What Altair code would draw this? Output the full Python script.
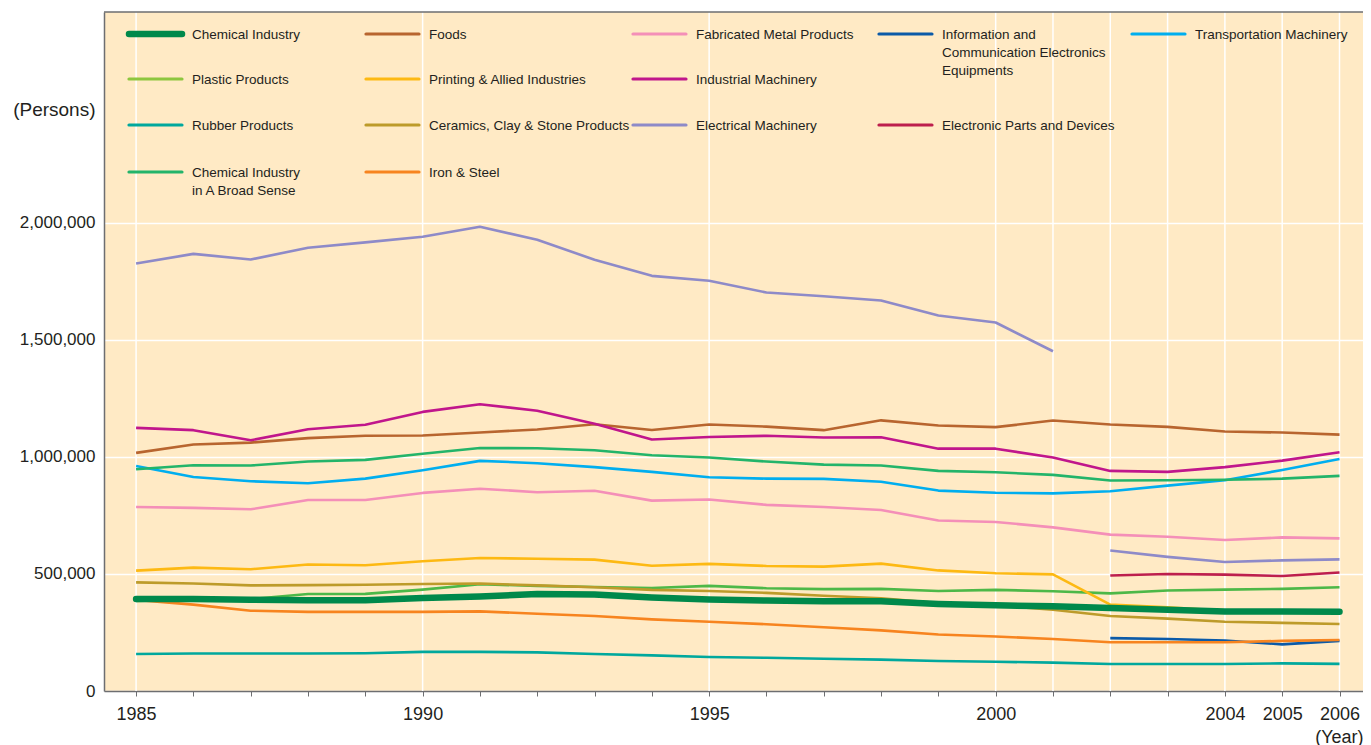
import altair as alt
import pandas as pd

# ---------------- data ----------------
YEARS = list(range(1985, 2007))

INDUSTRIES = [
    "Chemical Industry", "Foods", "Fabricated Metal Products",
    "Information and Communication Electronics Equipments", "Transportation Machinery",
    "Plastic Products", "Printing & Allied Industries", "Industrial Machinery",
    "Rubber Products", "Ceramics, Clay & Stone Products", "Electrical Machinery",
    "Electronic Parts and Devices", "Chemical Industry in A Broad Sense", "Iron & Steel",
]

LINE_COLORS = [
    "#00894b", "#b8652f", "#f48fb8", "#0b5aa8", "#00aeef",
    "#4db848", "#fdb913", "#c0168c", "#00a89d", "#bd9b2a",
    "#8e8ac8", "#bd1f4d", "#23b46a", "#f7841f",
]
LEGEND_COLORS = [
    "#00894b", "#b8652f", "#f48fb8", "#0b5aa8", "#00aeef",
    "#8dc63f", "#fdb913", "#c0168c", "#00a89d", "#bd9b2a",
    "#8e8ac8", "#bd1f4d", "#23b46a", "#f7841f",
]

NA17 = [None] * 17
chemical = [393, 393, 390, 388, 388, 397, 404, 414, 412, 399, 391, 386, 383, 383, 372, 366, 362, 355, 347, 340, 340, 339]
foods = [1017, 1053, 1061, 1080, 1090, 1091, 1104, 1117, 1139, 1115, 1138, 1129, 1114, 1156, 1134, 1127, 1155, 1138, 1128, 1108, 1104, 1095]
fabricated = [786, 782, 776, 816, 816, 846, 864, 849, 855, 813, 818, 795, 786, 773, 728, 722, 699, 668, 659, 645, 656, 652]
info_comm = NA17 + [226, 222, 216, 199, 214]
transport = [961, 914, 896, 887, 907, 943, 983, 973, 956, 936, 913, 907, 906, 894, 856, 847, 844, 853, 877, 900, 944, 991]
plastic = [385, 390, 393, 414, 415, 433, 456, 449, 444, 440, 449, 439, 435, 436, 427, 432, 426, 417, 429, 433, 436, 443]
printing = [514, 527, 520, 540, 537, 554, 568, 565, 561, 535, 543, 534, 531, 544, 515, 503, 498, 369, 357, 343, 340, 333]
industrial = [1124, 1114, 1071, 1118, 1137, 1192, 1225, 1197, 1141, 1074, 1085, 1090, 1083, 1084, 1035, 1035, 997, 940, 936, 956, 984, 1020]
rubber = [158, 160, 160, 160, 161, 167, 167, 165, 158, 152, 145, 142, 138, 134, 128, 125, 121, 115, 115, 115, 118, 116]
ceramics = [464, 459, 451, 452, 454, 457, 459, 451, 443, 432, 427, 419, 407, 396, 376, 365, 347, 320, 309, 296, 291, 286]
electrical = [1826, 1867, 1843, 1893, 1916, 1940, 1983, 1927, 1842, 1773, 1752, 1702, 1686, 1668, 1604, 1574, 1451, 600, 573, 551, 558, 562]
electronic_parts = NA17 + [493, 500, 497, 491, 506]
broad_sense = [947, 964, 963, 980, 987, 1013, 1038, 1037, 1028, 1007, 997, 980, 967, 963, 940, 934, 923, 899, 900, 902, 907, 919]
iron_steel = [389, 369, 343, 338, 338, 338, 340, 330, 320, 306, 296, 285, 272, 259, 241, 233, 222, 208, 208, 208, 214, 218]

SERIES = [chemical, foods, fabricated, info_comm, transport, plastic, printing,
          industrial, rubber, ceramics, electrical, electronic_parts, broad_sense, iron_steel]

# classification change: the series is split here
BREAK_YEAR = {"Electrical Machinery": 2002}

LABEL_YEARS = [1985, 1990, 1995, 2000, 2004, 2005, 2006]
GRID_YEARS = [1985, 1990, 1995, 2000, 2001, 2002, 2003, 2004, 2005, 2006]
Y_TICKS = [0, 500000, 1000000, 1500000, 2000000]

LEGEND_LABELS = {
    "Information and Communication Electronics Equipments":
        "Information and\nCommunication Electronics\nEquipments",
    "Chemical Industry in A Broad Sense": "Chemical Industry\nin A Broad Sense",
}
# (column, row) of each legend entry
LEGEND_CELLS = [(0, 0), (1, 0), (2, 0), (3, 0), (4, 0),
                (0, 1), (1, 1), (2, 1),
                (0, 2), (1, 2), (2, 2), (3, 2),
                (0, 3), (1, 3)]

# ---------------- layout ----------------
W, H = 1259, 679
BG = "#ffeac5"
AXIS_GRAY = "#6d6e71"
TEXT = "#231f20"
AXIS_FONT = "Liberation Sans, Arial, Helvetica, sans-serif"
LEG_FONT = "Liberation Sans, Arial, Helvetica, sans-serif"
LEG_FONT_SIZE = 13.5
LEG_COL_X = [25, 262, 529, 775, 1028]
LEG_ROW_Y = [22, 67, 113, 160]
LEG_LINE_LEN = 53
LEG_TEXT_DX = 63

rows = []
for name, vals in zip(INDUSTRIES, SERIES):
    brk = BREAK_YEAR.get(name)
    for yr, v in zip(YEARS, vals):
        if v is None:
            continue
        seg = name + ("|b" if (brk is not None and yr >= brk) else "|a")
        rows.append({"industry": name, "year": yr, "value": v * 1000, "seg": seg})
df = pd.DataFrame(rows)

leg_rows = []
for name, col, (c, r) in zip(INDUSTRIES, LEGEND_COLORS, LEGEND_CELLS):
    x0 = LEG_COL_X[c]
    y0 = LEG_ROW_Y[r]
    leg_rows.append({
        "name": name, "color": col,
        "lx": x0, "lx2": x0 + LEG_LINE_LEN, "ly": y0,
        "tx": x0 + LEG_TEXT_DX, "ty": y0 - 6,
        "label": LEGEND_LABELS.get(name, name),
        "sw": 6.5 if name == "Chemical Industry" else 3.2,
    })
leg = pd.DataFrame(leg_rows)

xscale = alt.Scale(domain=[1984.44, 2006.41], nice=False, zero=False)
yscale = alt.Scale(domain=[0, 2900000], nice=False)
cscale = alt.Scale(domain=INDUSTRIES, range=LINE_COLORS)

label_test = " || ".join(f"datum.value == {y}" for y in LABEL_YEARS)

x_axis = alt.Axis(
    values=YEARS, labelExpr=f"({label_test}) ? datum.value : ''",
    grid=False, tickSize=5, tickColor=AXIS_GRAY, tickWidth=1,
    labelFontSize=18, labelPadding=9, labelFont=AXIS_FONT, labelColor=TEXT,
    domainColor=AXIS_GRAY, domainWidth=1.5, labelFlush=False, labelOverlap=False,
    title="(Year)", titleFont=AXIS_FONT, titleFontSize=18, titleFontWeight="normal",
    titleColor=TEXT, titleAnchor="end", titleAlign="right", titleBaseline="middle",
    titleX=W, titleY=46,
)
y_axis = alt.Axis(
    values=Y_TICKS, labelExpr="format(datum.value, ',')", ticks=False, tickSize=0,
    labelPadding=9, labelFontSize=17, labelFont=AXIS_FONT, labelColor=TEXT,
    grid=True, gridColor="white", gridWidth=1.5,
    domainColor=AXIS_GRAY, domainWidth=1.5,
    title="(Persons)", titleAngle=0, titleAlign="right", titleBaseline="middle",
    titleX=-9, titleY=97, titleFont=AXIS_FONT, titleFontSize=19,
    titleFontWeight="normal", titleColor=TEXT,
)
x_enc = alt.X("year:Q", scale=xscale, axis=x_axis)
y_enc = alt.Y("value:Q", scale=yscale, axis=y_axis)

grid = alt.Chart(pd.DataFrame({"year": GRID_YEARS})).mark_rule(
    color="white", strokeWidth=1.5
).encode(x=x_enc)

top_border = alt.Chart(pd.DataFrame({"a": [0]})).mark_rule(
    color=AXIS_GRAY, strokeWidth=1.5
).encode(x=alt.value(0), x2=alt.value(W), y=alt.value(0))

lines = alt.Chart(df[df.industry != "Chemical Industry"]).mark_line(
    strokeWidth=2.6, strokeJoin="round"
).encode(
    x=x_enc, y=y_enc,
    color=alt.Color("industry:N", scale=cscale, legend=None),
    detail="seg:N",
)

chem = alt.Chart(df[df.industry == "Chemical Industry"]).mark_line(
    strokeWidth=6.5, strokeJoin="round", strokeCap="round"
).encode(
    x=x_enc, y=y_enc,
    color=alt.Color("industry:N", scale=cscale, legend=None),
)

main = alt.layer(grid, lines, chem, top_border)

leg_lines = alt.Chart(leg).mark_rule(strokeCap="round").encode(
    x=alt.X("lx:Q", scale=None, axis=None),
    x2="lx2:Q",
    y=alt.Y("ly:Q", scale=None, axis=None),
    color=alt.Color("color:N", scale=None, legend=None),
    strokeWidth=alt.StrokeWidth("sw:Q", scale=None, legend=None),
)
leg_text = alt.Chart(leg).mark_text(
    align="left", baseline="top", lineBreak="\n", lineHeight=18,
    font=LEG_FONT, fontSize=LEG_FONT_SIZE, color=TEXT,
).encode(
    x=alt.X("tx:Q", scale=None, axis=None),
    y=alt.Y("ty:Q", scale=None, axis=None),
    text="label:N",
)
legend = alt.layer(leg_lines, leg_text)

chart = alt.layer(main, legend).resolve_scale(
    x="independent", y="independent", color="independent", strokeWidth="independent"
).properties(
    width=W, height=H,
    padding={"left": 96, "top": 4, "right": 0, "bottom": 56},
    autosize=alt.AutoSizeParams(type="none"),
    background="white",
).configure_view(fill=BG, stroke=None)

chart.save("out.html", embed_options={"renderer": "svg", "actions": False})
